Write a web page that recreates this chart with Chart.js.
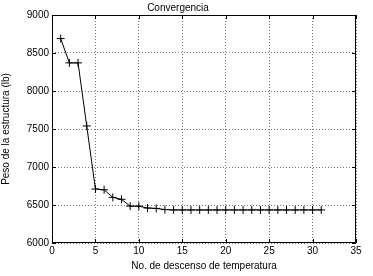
<!DOCTYPE html>
<html>
<head>
<meta charset="utf-8">
<script src="https://cdn.jsdelivr.net/npm/chart.js@4"></script>
<style>
  html, body { margin: 0; padding: 0; background: #fff; }
  #wrap { width: 373px; height: 276px; }
</style>
</head>
<body>
<div id="wrap"><canvas id="chart"></canvas></div>
<script>
// numero de descenso de temperatura
const pasos = [1, 2, 3, 4, 5, 6, 7, 8, 9, 10, 11, 12, 13, 14, 15, 16, 17, 18, 19, 20,
  21, 22, 23, 24, 25, 26, 27, 28, 29, 30, 31];
// peso de la estructura (lb)
const pesos = [8690, 8370, 8370, 7540, 6710, 6700, 6600, 6575, 6485, 6485, 6460, 6455,
  6440, 6435, 6435, 6435, 6435, 6435, 6435, 6435, 6435, 6435, 6435, 6435, 6435, 6435,
  6435, 6435, 6435, 6435, 6435];

const xTicks = [0, 5, 10, 15, 20, 25, 30, 35];
const yTicks = [6000, 6500, 7000, 7500, 8000, 8500, 9000];

const font = { family: 'Arial, "Liberation Sans", sans-serif', size: 10, weight: 'normal' };

// caja del grafico con marcas hacia dentro
const boxPlugin = {
  id: 'box',
  afterDraw(chart) {
    const { ctx, chartArea: a, scales } = chart;
    ctx.save();
    ctx.strokeStyle = '#000';
    ctx.lineWidth = 1;
    ctx.strokeRect(a.left + 0.5, a.top + 0.5, a.right - a.left - 1, a.bottom - a.top - 1);
    ctx.beginPath();
    xTicks.forEach(v => {
      const px = Math.round(scales.x.getPixelForValue(v)) + 0.5;
      ctx.moveTo(px, a.bottom); ctx.lineTo(px, a.bottom - 4);
      ctx.moveTo(px, a.top); ctx.lineTo(px, a.top + 4);
    });
    yTicks.forEach(v => {
      const py = Math.round(scales.y.getPixelForValue(v)) + 0.5;
      ctx.moveTo(a.left, py); ctx.lineTo(a.left + 4, py);
      ctx.moveTo(a.right, py); ctx.lineTo(a.right - 4, py);
    });
    ctx.stroke();
    ctx.restore();
  }
};

new Chart(document.getElementById('chart'), {
  type: 'scatter',
  data: {
    datasets: [{
      data: pasos.map((p, i) => ({ x: p, y: pesos[i] })),
      showLine: true,
      borderColor: '#000',
      borderWidth: 1,
      pointStyle: 'cross',
      pointRadius: 4,
      pointBorderColor: '#000',
      pointBorderWidth: 1
    }]
  },
  options: {
    responsive: true,
    maintainAspectRatio: false,
    animation: false,
    layout: { padding: { left: 0, right: 17, top: 0, bottom: 4 } },
    plugins: {
      legend: { display: false },
      tooltip: { enabled: false },
      title: {
        display: true,
        text: 'Convergencia',
        color: '#000',
        font: font,
        padding: { top: 2, bottom: 1 }
      }
    },
    scales: {
      x: {
        type: 'linear',
        min: 0, max: 35,
        afterBuildTicks: s => { s.ticks = xTicks.map(v => ({ value: v })); },
        ticks: { color: '#000', font: font, padding: 2, maxRotation: 0, callback: v => String(v) },
        grid: { color: '#777', lineWidth: 1, drawTicks: false },
        border: { display: false, dash: [1, 2] },
        title: { display: true, text: 'No. de descenso de temperatura', color: '#000', font: font, padding: { top: 1, bottom: 0 } }
      },
      y: {
        type: 'linear',
        min: 6000, max: 9000,
        afterBuildTicks: s => { s.ticks = yTicks.map(v => ({ value: v })); },
        afterFit: s => { s.width = 52; },
        ticks: { color: '#000', font: font, padding: 3, callback: v => String(v) },
        grid: { color: '#777', lineWidth: 1, drawTicks: false },
        border: { display: false, dash: [1, 2] },
        title: { display: true, text: 'Peso de la estructura (lb)', color: '#000', font: font, padding: { top: 0, bottom: 4 } }
      }
    }
  },
  plugins: [boxPlugin]
});
</script>
</body>
</html>
